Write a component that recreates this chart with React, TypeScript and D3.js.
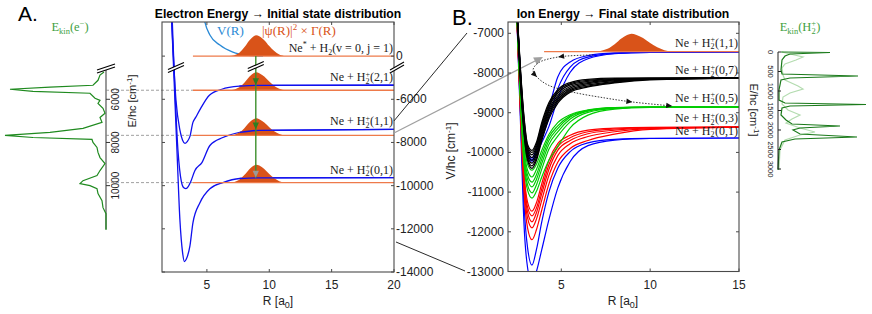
import * as d3 from "d3";

const SERIF = "'Liberation Serif', 'DejaVu Serif', serif";
const SANS = "'Liberation Sans', Arial, sans-serif";

// ---------- panel A : electron energy ----------
const ticksAx = [5, 10, 15, 20];
const ticksAy = [-4000, -6000, -8000, -10000, -12000, -14000];
const tickLabelsAy = ["0", "-6000", "-8000", "-10000", "-12000", "-14000"];
const breakShift = 4000; // the Ne* level (0) is drawn at -4000, above the axis break

// ion potential curves V(R) for H2+(2,1), (1,1), (0,1)  [R, E]
const potA = [
  [[2.15, -2000], [2.52, -6046], [2.84, -7440], [3.05, -7900], [3.24, -8046], [3.42, -7960], [3.64, -7720], [3.88, -7070], [4.1, -6840], [4.5, -6420], [5.2, -5810], [6.2, -5535], [7.6, -5395], [9.2, -5355], [20, -5350]],
  [[2.2, -2000], [2.68, -8370], [2.95, -9800], [3.15, -10100], [3.32, -10140], [3.5, -10050], [3.7, -9820], [4.04, -9300], [4.6, -8930], [5.24, -8140], [6.28, -7770], [7.64, -7530], [9.2, -7440], [20, -7395]],
  [[2.15, -2000], [2.6, -8370], [2.84, -11630], [3.05, -13100], [3.2, -13520], [3.35, -13400], [3.64, -12790], [3.88, -11720], [4.44, -10790], [5.24, -10140], [6.28, -9860], [7.64, -9670], [9.2, -9640], [20, -9630]],
];
const blueLevelsA = [-5350, -7395, -9630];
// neutral V(R) (above the break, real energies)
const neutralV = [[4.7, 2000], [4.84, 1580], [5.24, 980], [6.04, 510], [7.08, 185], [8.2, 45], [9.5, 0]];
const orangeLevelsA = [0, -5580, -7670, -9860];
const psiHeightA = [970, 830, 790, 830];
const levelStartA = 3.88;
const labelsA = [
  { v: 2, j: 1, e: -5350 },
  { v: 1, j: 1, e: -7395 },
  { v: 0, j: 1, e: -9630 },
];
const arrowR = 8.92;

// |psi|^2 x Gamma profile
const psiR = [6.8, 7.2, 7.6, 8.0, 8.4, 8.7, 8.95, 9.2, 9.6, 10.0, 10.4, 10.8, 11.3];
const psiVal = [0, 0.04, 0.16, 0.42, 0.75, 0.93, 1, 0.95, 0.76, 0.48, 0.24, 0.08, 0];

// electron kinetic energy spectrum
const eSpecE = [4740, 4880, 5120, 5350, 5440, 5535, 5630, 5720, 5950, 6050, 6190, 6420, 6650, 6840, 7070, 7350, 7530, 7675, 7770, 7860, 8000, 8230, 8460, 8700, 8980, 9300, 9530, 9770, 9910, 10000, 10140, 10370, 10700, 11020, 11300, 12050];
const eSpecI = [2, 6, 8, 13, 56, 96, 73, 16, 11, 6, 8, 3, 1, 6, 4, 23, 56, 101, 73, 14, 13, 9, 8, 6, 1, 6, 9, 23, 26, 16, 9, 8, 4, 3, 0, 0];
const eSpecTicks = [6000, 8000, 10000];

// ---------- panel B : ion energy ----------
const ticksBx = [5, 10, 15];
const ticksBy = [-7000, -8000, -9000, -10000, -11000, -12000, -13000];
const gridB = [2.45, 2.7, 2.9, 3.1, 3.35, 3.6, 3.9, 4.3, 4.8, 5.5, 6.5, 8, 10, 15];
const blue01 = [
  [-6000, -9000, -11300, -12400, -12840, -12450, -11750, -11000, -10400, -9980, -9760, -9670, -9645, -9637],
  [-6000, -9200, -11800, -12900, -13300, -13000, -12450, -11700, -10900, -10230, -9830, -9690, -9650, -9637],
];
const red03 = [
  [-6000, -9000, -11000, -11900, -12200, -11950, -11450, -10800, -10250, -9900, -9700, -9540, -9420, -9362],
  [-6000, -8900, -10800, -11650, -11900, -11680, -11200, -10580, -10080, -9780, -9600, -9480, -9400, -9361],
  [-6000, -8850, -10700, -11500, -11750, -11520, -11040, -10430, -9950, -9700, -9530, -9440, -9385, -9360],
  [-6000, -8800, -10600, -11380, -11600, -11400, -10920, -10310, -9860, -9630, -9480, -9410, -9375, -9360],
  [-6000, -8750, -10500, -11250, -11480, -11270, -10790, -10200, -9780, -9570, -9440, -9390, -9368, -9360],
];
const green05 = [
  [-6000, -8700, -10300, -10950, -11150, -10980, -10620, -10200, -9850, -9380, -9060, -8910, -8866, -8856],
  [-6000, -8650, -10200, -10820, -11020, -10820, -10420, -9920, -9590, -9230, -8990, -8890, -8862, -8856],
  [-6000, -8600, -10100, -10680, -10870, -10680, -10280, -9800, -9480, -9160, -8960, -8880, -8860, -8856],
  [-6000, -8500, -10000, -10570, -10750, -10560, -10170, -9700, -9400, -9110, -8950, -8875, -8859, -8856],
  [-6000, -8400, -9850, -10450, -10620, -10430, -10060, -9620, -9330, -9080, -8940, -8872, -8858, -8856],
  [-6000, -8300, -9700, -10300, -10450, -10300, -9950, -9550, -9250, -9050, -8930, -8870, -8858, -8856],
];
const black07 = [
  [-6000, -8200, -9500, -10200, -10400, -10200, -9700, -9150, -8760, -8480, -8350, -8250, -8170, -8126],
  [-6000, -8160, -9450, -10150, -10340, -10140, -9640, -9090, -8715, -8450, -8330, -8235, -8162, -8126],
  [-6000, -8120, -9390, -10090, -10270, -10070, -9570, -9030, -8670, -8420, -8300, -8215, -8155, -8126],
  [-6000, -8080, -9330, -10030, -10200, -10000, -9500, -8970, -8620, -8380, -8270, -8195, -8148, -8126],
  [-6000, -8040, -9270, -9960, -10130, -9930, -9430, -8910, -8570, -8340, -8240, -8175, -8141, -8126],
  [-6000, -7990, -9210, -9900, -10060, -9860, -9370, -8850, -8510, -8300, -8210, -8160, -8135, -8126],
  [-6000, -7940, -9150, -9850, -10000, -9800, -9310, -8800, -8460, -8270, -8185, -8145, -8130, -8126],
  [-6000, -7900, -9100, -9800, -9950, -9750, -9250, -8750, -8420, -8240, -8160, -8130, -8127, -8126],
];
const blue11 = [
  [-6000, -8000, -9300, -9950, -10140, -9900, -9500, -8900, -8100, -7720, -7560, -7495, -7475, -7470],
  [-6000, -8050, -9350, -10000, -10180, -9980, -9650, -9150, -8400, -7850, -7600, -7505, -7478, -7470],
  [-6000, -8100, -9400, -10050, -10220, -10050, -9750, -9350, -8650, -7980, -7640, -7515, -7480, -7470],
];
const orangeLevelB = -7462;
const levelStartB = 4.03;
const psiHeightB = 450;
const labelsB = [
  { v: 1, j: 1, e: -7470, lift: 5 },
  { v: 0, j: 7, e: -8126, lift: 4 },
  { v: 0, j: 5, e: -8856, lift: 5 },
  { v: 0, j: 3, e: -9360, lift: 5 },
  { v: 0, j: 1, e: -9637, lift: 3 },
];
// dotted path of the vibrational relaxation, [R, E]
const hopPath = [[6.8, -7546], [4.82, -7597], [3.69, -7748], [3.41, -7924], [3.63, -8100], [4.25, -8302], [5.6, -8478], [7.47, -8630], [9.0, -8730], [11.24, -8831]];
const hopArrows = [1, 4, 6, 8, 9];

// H2+ kinetic energy spectra
const ionSpecE = [0, 13, 51, 103, 205, 462, 564, 615, 667, 718, 974, 1231, 1308, 1346, 1385, 1436, 1615, 1744, 1846, 1897, 1949, 2000, 2103, 2179, 2231, 2308, 2513, 3026];
const ionSpecI = [3, 52, 12, 7, 4, 3, 4, 80, 12, 3, 1, 1, 7, 88, 12, 4, 3, 8, 14, 62, 22, 15, 22, 79, 17, 4, 1, 0];
const ionSpec2E = [0, 51, 128, 205, 308, 410, 590, 718, 872, 949, 1051, 1154, 1333, 1487, 1615, 1718, 1821, 1949, 2051, 2128, 2256, 2513, 3026];
const ionSpec2I = [4, 12, 25, 18, 7, 4, 5, 7, 20, 25, 12, 5, 4, 10, 22, 14, 8, 22, 37, 22, 7, 2, 1];
const ionSpecTicks = [0, 500, 1000, 1500, 2000, 2500, 3000];

// ---------- scales ----------
const xA = d3.scaleLinear([1.4, 20], [162, 394]);
const yA = d3.scaleLinear([-14000, -2420], [272, 22]);
const xB = d3.scaleLinear([2, 15], [508, 739]);
const yB = d3.scaleLinear([-13000, -6715], [271.5, 22]);
const xSpecA = d3.scaleLinear([0, 100], [106, 6]);
const xSpecB = d3.scaleLinear([0, 100], [778, 878]);
const ySpecB = d3.scaleLinear([0, 3000], [52, 169]);

const ORANGE = "#d95319";
const ORANGE_LINE = "#ee7a4a";
const AXIS = "#4a4a4a";

function IonLabel({ x, y, v, j }: { x: number; y: number; v: number; j: number }) {
  return (
    <text x={x} y={y} textAnchor="end" fontFamily={SERIF} fontSize={12} fill="#1a1a1a">
      Ne + H<tspan dy={2.5} fontSize={8}>2</tspan>
      <tspan dx={-4} dy={-7} fontSize={8}>+</tspan>
      <tspan dy={4.5}>({v},{j})</tspan>
    </text>
  );
}

function BreakMark({ x, y, w = 16, h = 7 }: { x: number; y: number; w?: number; h?: number }) {
  const g = 3;
  return (
    <g>
      <polygon points={`${x - w / 2},${y + h / 2} ${x + w / 2},${y - h / 2} ${x + w / 2},${y - h / 2 + g} ${x - w / 2},${y + h / 2 + g}`} fill="#fff" />
      <line x1={x - w / 2} y1={y + h / 2} x2={x + w / 2} y2={y - h / 2} stroke="#000" strokeWidth={1.1} />
      <line x1={x - w / 2} y1={y + h / 2 + g} x2={x + w / 2} y2={y - h / 2 + g} stroke="#000" strokeWidth={1.1} />
    </g>
  );
}

function Arrowhead({ x, y, angle, size = 6, fill }: { x: number; y: number; angle: number; size?: number; fill: string }) {
  return (
    <path
      d={`M0,0 L${-size},${-size * 0.45} L${-size},${size * 0.45} Z`}
      transform={`translate(${x},${y}) rotate(${angle})`}
      fill={fill}
    />
  );
}

export default function App() {
  const lineA = d3.line<number[]>().x((d) => xA(d[0])).y((d) => yA(d[1])).curve(d3.curveMonotoneX);
  const lineB = d3.line<number[]>().x((d) => xB(d[0])).y((d) => yB(d[1])).curve(d3.curveMonotoneX);
  const psiArea = (xs: d3.ScaleLinear<number, number>, ys: d3.ScaleLinear<number, number>, e: number, h: number) =>
    d3
      .area<number>()
      .x((_, i) => xs(psiR[i]))
      .y0(ys(e))
      .y1((v) => ys(e + h * v))
      .curve(d3.curveMonotoneX)(psiVal) as string;

  const gridCurve = (vals: number[]) => lineB(vals.map((v, i) => [gridB[i], v])) as string;

  const specA = d3
    .line<number>()
    .x((_, i) => xSpecA(eSpecI[i]))
    .y((e) => yA(-e))(eSpecE) as string;
  const specB = d3
    .line<number>()
    .x((_, i) => xSpecB(ionSpecI[i]))
    .y((e) => ySpecB(e))(ionSpecE) as string;
  const specB2 = d3
    .line<number>()
    .x((_, i) => xSpecB(ionSpec2I[i]))
    .y((e) => ySpecB(e))(ionSpec2E) as string;

  const hopPx = hopPath.map((p) => [xB(p[0]), yB(p[1])]);
  const hopD = d3.line().curve(d3.curveCatmullRom)(hopPx as [number, number][]) as string;

  const topY = yA(-breakShift);
  const grayStart = [394, 133];
  const grayEnd = [543, 57];
  const grayAngle = (Math.atan2(grayEnd[1] - grayStart[1], grayEnd[0] - grayStart[0]) * 180) / Math.PI;

  return (
    <svg width={872} height={314} style={{ position: "absolute", left: 0, top: 0, background: "#fff" }} fontFamily={SANS}>
      <defs>
        <clipPath id="clipA">
          <rect x={162} y={22} width={232} height={250} />
        </clipPath>
        <clipPath id="clipB">
          <rect x={508} y={22} width={231} height={249.5} />
        </clipPath>
      </defs>

      {/* panel letters & titles */}
      <text x={18} y={21} fontSize={21}>A.</text>
      <text x={452} y={25} fontSize={22}>B.</text>
      <text x={278} y={18} textAnchor="middle" fontSize={12.2} fontWeight="bold">
        Electron Energy → Initial state distribution
      </text>
      <text x={623} y={18} textAnchor="middle" fontSize={12.2} fontWeight="bold">
        Ion Energy → Final state distribution
      </text>

      {/* ===== left spectrum (electrons) ===== */}
      <text x={70} y={31} textAnchor="middle" fontFamily={SERIF} fontSize={12.5} fill="#3f9f3f">
        E<tspan dy={3} fontSize={8.5}>kin</tspan>
        <tspan dy={-3}>(e</tspan>
        <tspan dy={-5} fontSize={8.5}>−</tspan>
        <tspan dy={5}>)</tspan>
      </text>
      {orangeLevelsA.slice(1).map((e, i) => (
        <line key={i} x1={106} x2={xA(levelStartA)} y1={yA(e)} y2={yA(e)} stroke="#a0a0a0" strokeWidth={1} strokeDasharray="3,2" />
      ))}
      <line x1={106} x2={106} y1={70} y2={229} stroke="#808080" strokeWidth={1.6} />
      {eSpecTicks.map((t) => (
        <g key={t}>
          <line x1={106} x2={110} y1={yA(-t)} y2={yA(-t)} stroke="#333" />
          <text x={119} y={yA(-t)} fontSize={10} textAnchor="middle" transform={`rotate(-90,119,${yA(-t)})`} fill="#222">
            {t}
          </text>
        </g>
      ))}
      <text x={136} y={101} fontSize={11} textAnchor="middle" transform="rotate(-90,136,101)" fill="#222">
        E/hc [cm<tspan dy={-4} fontSize={8}>-1</tspan>
        <tspan dy={4}>]</tspan>
      </text>
      <path d={specA} fill="none" stroke="#1f8a1f" strokeWidth={1.2} />
      <BreakMark x={106} y={67} w={18} h={6} />

      {/* ===== panel A ===== */}
      <g clipPath="url(#clipA)">
        {/* neutral curve */}
        <path
          d={lineA(neutralV.map((p) => [p[0], p[1] - breakShift])) as string}
          fill="none"
          stroke="#2b8ad6"
          strokeWidth={1.3}
        />
        {potA.map((c, i) => (
          <path key={i} d={lineA(c) as string} fill="none" stroke="#1010ee" strokeWidth={1.3} />
        ))}
        {orangeLevelsA.map((e, i) => {
          const ye = i === 0 ? e - breakShift : e;
          return (
            <g key={i}>
              <path d={psiArea(xA, yA, ye, psiHeightA[i])} fill={ORANGE} />
              <line x1={xA(levelStartA)} x2={xA(20)} y1={yA(ye)} y2={yA(ye)} stroke={ORANGE_LINE} strokeWidth={1.4} />
            </g>
          );
        })}
        {/* redraw blue level lines on top of the distributions */}
        {potA.map((c, i) => (
          <path key={"b" + i} d={lineA(c.filter((p) => p[0] >= 7.6)) as string} fill="none" stroke="#1010ee" strokeWidth={1.3} />
        ))}
        {/* green vertical transition */}
        <line x1={xA(arrowR)} x2={xA(arrowR)} y1={topY} y2={yA(blueLevelsA[2])} stroke="#3c8f2c" strokeWidth={1.4} />
        {blueLevelsA.map((e, i) => (
          <Arrowhead key={i} x={xA(arrowR)} y={yA(e)} angle={90} size={7} fill={i === 2 ? "#9a9a9a" : "#2e7d22"} />
        ))}
      </g>
      <rect x={162} y={22} width={232} height={250} fill="none" stroke={AXIS} strokeWidth={1.1} />
      {ticksAx.map((t) => (
        <g key={t}>
          <line x1={xA(t)} x2={xA(t)} y1={272} y2={269} stroke={AXIS} />
          <line x1={xA(t)} x2={xA(t)} y1={22} y2={25} stroke={AXIS} />
          <text x={xA(t)} y={289} textAnchor="middle" fontSize={12} fill="#222">
            {t}
          </text>
        </g>
      ))}
      {ticksAy.map((t, i) => (
        <g key={t}>
          <line x1={162} x2={165} y1={yA(t)} y2={yA(t)} stroke={AXIS} />
          <line x1={394} x2={391} y1={yA(t)} y2={yA(t)} stroke={AXIS} />
          <text x={396} y={yA(t) + 4} fontSize={12} fill="#222">
            {tickLabelsAy[i]}
          </text>
        </g>
      ))}
      <text x={278} y={305} textAnchor="middle" fontSize={12} fill="#222">
        R [a<tspan dy={3} fontSize={9}>0</tspan>
        <tspan dy={-3}>]</tspan>
      </text>
      <text x={xA(20) - 1} y={topY - 4} textAnchor="end" fontFamily={SERIF} fontSize={12} fill="#1a1a1a">
        Ne<tspan dy={-5} fontSize={8}>*</tspan>
        <tspan dy={5}> + H</tspan>
        <tspan dy={2.5} fontSize={8}>2</tspan>
        <tspan dy={-2.5}>(v = 0, j = 1)</tspan>
      </text>
      {labelsA.map((l) => (
        <IonLabel key={l.v} x={xA(20) - 1} y={yA(l.e) - 4} v={l.v} j={l.j} />
      ))}
      <text x={217} y={35} fontFamily={SERIF} fontSize={13} fill="#2b8ad6">
        V(R)
      </text>
      <text x={262} y={35} fontFamily={SERIF} fontSize={13} fill={ORANGE}>
        |ψ(R)|<tspan dy={-5} fontSize={9}>2</tspan>
        <tspan dy={5}> × Γ(R)</tspan>
      </text>
      <BreakMark x={176} y={66} />
      <BreakMark x={xA(arrowR)} y={65} />
      <BreakMark x={397} y={66} w={14} h={8} />

      {/* ===== connectors A -> B ===== */}
      <line x1={394} y1={yA(-7000)} x2={467} y2={33} stroke="#111" strokeWidth={0.9} />
      <line x1={396} y1={242} x2={465} y2={271} stroke="#111" strokeWidth={0.9} />
      <line x1={grayStart[0]} y1={grayStart[1]} x2={grayEnd[0] - 5} y2={grayEnd[1] + 2.5} stroke="#a0a0a0" strokeWidth={1.3} />
      <Arrowhead x={grayEnd[0]} y={grayEnd[1]} angle={grayAngle} size={9} fill="#a0a0a0" />

      {/* ===== panel B ===== */}
      <g clipPath="url(#clipB)">
        {blue01.map((c, i) => (
          <path key={"b0" + i} d={gridCurve(c)} fill="none" stroke="#0000ff" strokeWidth={1.2} />
        ))}
        {red03.map((c, i) => (
          <path key={"r" + i} d={gridCurve(c)} fill="none" stroke="#ff0000" strokeWidth={1.2} />
        ))}
        {green05.map((c, i) => (
          <path key={"g" + i} d={gridCurve(c)} fill="none" stroke="#00cc00" strokeWidth={1.2} />
        ))}
        {blue11.map((c, i) => (
          <path key={"b1" + i} d={gridCurve(c)} fill="none" stroke="#0000ff" strokeWidth={1.2} />
        ))}
        {black07.map((c, i) => (
          <path key={"k" + i} d={gridCurve(c)} fill="none" stroke="#000" strokeWidth={1.3} />
        ))}
        <path d={psiArea(xB, yB, orangeLevelB, psiHeightB)} fill={ORANGE} />
        <line x1={xB(levelStartB)} x2={xB(15)} y1={yB(orangeLevelB)} y2={yB(orangeLevelB)} stroke={ORANGE_LINE} strokeWidth={1.4} />
        <path d={hopD} fill="none" stroke="#222" strokeWidth={0.9} strokeDasharray="1.5,1.5" />
        {hopArrows.map((k) => {
          const p = hopPx[k];
          const q = hopPx[k - 1];
          const n = hopPx[Math.min(k + 1, hopPx.length - 1)];
          const a = k === hopPx.length - 1 ? Math.atan2(p[1] - q[1], p[0] - q[0]) : Math.atan2(n[1] - q[1], n[0] - q[0]);
          return <Arrowhead key={k} x={p[0]} y={p[1]} angle={(a * 180) / Math.PI} size={6} fill="#111" />;
        })}
      </g>
      <rect x={508} y={22} width={231} height={249.5} fill="none" stroke={AXIS} strokeWidth={1.1} />
      {ticksBx.map((t) => (
        <g key={t}>
          <line x1={xB(t)} x2={xB(t)} y1={271.5} y2={268.5} stroke={AXIS} />
          <line x1={xB(t)} x2={xB(t)} y1={22} y2={25} stroke={AXIS} />
          <text x={xB(t)} y={289} textAnchor="middle" fontSize={12} fill="#222">
            {t}
          </text>
        </g>
      ))}
      {ticksBy.map((t) => (
        <g key={t}>
          <line x1={508} x2={511} y1={yB(t)} y2={yB(t)} stroke={AXIS} />
          <line x1={739} x2={736} y1={yB(t)} y2={yB(t)} stroke={AXIS} />
          <text x={504} y={yB(t) + 4} textAnchor="end" fontSize={12} fill="#222">
            {t}
          </text>
        </g>
      ))}
      <text x={623} y={305} textAnchor="middle" fontSize={12} fill="#222">
        R [a<tspan dy={3} fontSize={9}>0</tspan>
        <tspan dy={-3}>]</tspan>
      </text>
      <text x={455} y={151} fontSize={12} textAnchor="middle" transform="rotate(-90,455,151)" fill="#222">
        V/hc [cm<tspan dy={-4} fontSize={8}>-1</tspan>
        <tspan dy={4}>]</tspan>
      </text>
      {labelsB.map((l) => (
        <IonLabel key={l.j + "-" + l.v} x={738} y={yB(l.e) - l.lift} v={l.v} j={l.j} />
      ))}

      {/* ===== right spectrum (ions) ===== */}
      <text x={750} y={110} fontSize={11} textAnchor="middle" transform="rotate(90,750,110)" fill="#222">
        E/hc [cm<tspan dy={-4} fontSize={8}>-1</tspan>
        <tspan dy={4}>]</tspan>
      </text>
      <text x={800} y={31} textAnchor="middle" fontFamily={SERIF} fontSize={12.5} fill="#3f9f3f">
        E<tspan dy={3} fontSize={8.5}>kin</tspan>
        <tspan dy={-3}>(H</tspan>
        <tspan dy={3} fontSize={8.5}>2</tspan>
        <tspan dx={-4.3} dy={-8} fontSize={8.5}>+</tspan>
        <tspan dy={5}>)</tspan>
      </text>
      <path d={specB2} fill="none" stroke="#b4dcb0" strokeWidth={1.2} />
      <path d={specB} fill="none" stroke="#1a7a1a" strokeWidth={1.2} />
      <line x1={778} x2={778} y1={ySpecB(0)} y2={ySpecB(3000)} stroke="#222" strokeWidth={1} />
      {ionSpecTicks.map((t) => (
        <g key={t}>
          <line x1={778} x2={781} y1={ySpecB(t)} y2={ySpecB(t)} stroke="#222" />
          <text x={768} y={ySpecB(t)} fontSize={7.5} textAnchor="middle" transform={`rotate(90,768,${ySpecB(t)})`} fill="#222">
            {t}
          </text>
        </g>
      ))}
    </svg>
  );
}
